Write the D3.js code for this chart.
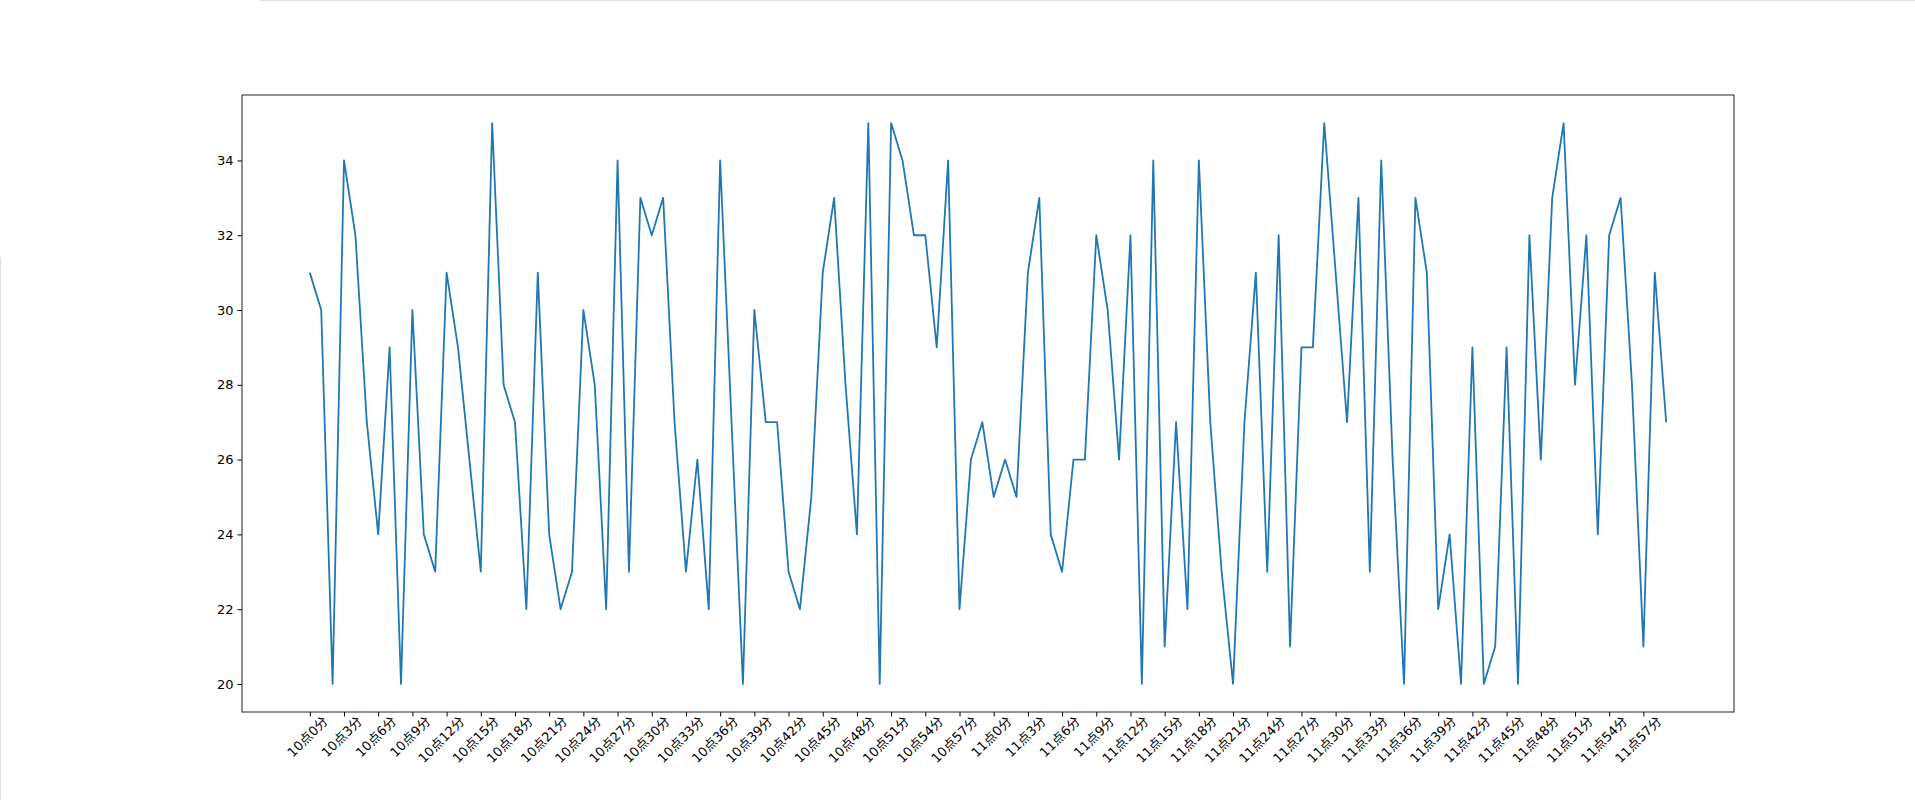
<!DOCTYPE html>
<html>
<head>
<meta charset="utf-8">
<script src="https://cdn.jsdelivr.net/npm/d3@7"></script>
<style>
  body { margin: 0; background: #fff; }
  text { font-family: "DejaVu Sans", "Noto Sans CJK SC", sans-serif; fill: #000; }
</style>
</head>
<body>
<div id="d3"></div>
<script>
// values per minute, 10:00 .. 11:59
var values = [31,30,20,34,32,27,24,29,20,30,24,23,31,29,26,23,35,28,27,22,
              31,24,22,23,30,28,22,34,23,33,32,33,27,23,26,22,34,27,20,30,
              27,27,23,22,25,31,33,28,24,35,20,35,34,32,32,29,34,22,26,27,
              25,26,25,31,33,24,23,26,26,32,30,26,32,20,34,21,27,22,34,27,
              23,20,27,31,23,32,21,29,29,35,31,27,33,23,34,26,20,33,31,22,
              24,20,29,20,21,29,20,32,26,33,35,28,32,24,32,33,28,21,31,27];
var labels = values.map(function(v, i) {
    return (10 + Math.floor(i / 60)) + "点" + (i % 60) + "分";
});
var yTicks = [20, 22, 24, 26, 28, 30, 32, 34];

var W = 1915, H = 800;
var mLeft = 242, mRight = 1734, mTop = 95, mBottom = 712;

var svg = d3.select("#d3").append("svg")
    .attr("width", W).attr("height", H);

// page edges seen in screenshot
svg.append("line").attr("x1", 260).attr("x2", W).attr("y1", 0.5).attr("y2", 0.5)
    .attr("stroke", "#e0e0e0");
svg.append("line").attr("x1", 0.5).attr("x2", 0.5).attr("y1", 257).attr("y2", H)
    .attr("stroke", "#e0e0e0");

var n = values.length;
var x = d3.scaleLinear().domain([-0.05 * (n - 1), (n - 1) * 1.05]).range([mLeft, mRight]);
var y = d3.scaleLinear().domain([19.25, 35.75]).range([mBottom, mTop]);

var yAxis = svg.append("g").attr("transform", "translate(" + mLeft + ",0)")
    .call(d3.axisLeft(y).tickValues(yTicks).tickSize(4.5).tickPadding(4));
var xIdx = d3.range(0, n, 3);
var xAxis = svg.append("g").attr("transform", "translate(0," + mBottom + ")")
    .call(d3.axisBottom(x).tickValues(xIdx).tickFormat(function(i) { return labels[i]; })
        .tickSize(4.5).tickPadding(4));
[yAxis, xAxis].forEach(function(a) {
    a.select(".domain").remove();
    a.selectAll("line").attr("stroke", "#000").attr("stroke-width", 1);
    a.selectAll("text").style("font-size", "13px");
});
xAxis.selectAll("text")
    .attr("text-anchor", "end")
    .attr("x", 6).attr("y", 11).attr("dy", "0.7em")
    .attr("transform", "rotate(-45)");

svg.append("path").datum(values)
    .attr("fill", "none").attr("stroke", "#1f77b4").attr("stroke-width", 1.8)
    .attr("stroke-linejoin", "round")
    .attr("d", d3.line().x(function(d, i) { return x(i); }).y(function(d) { return y(d); }));

svg.append("rect").attr("x", mLeft).attr("y", mTop)
    .attr("width", mRight - mLeft).attr("height", mBottom - mTop)
    .attr("fill", "none").attr("stroke", "#222").attr("stroke-width", 1);
</script>
</body>
</html>
